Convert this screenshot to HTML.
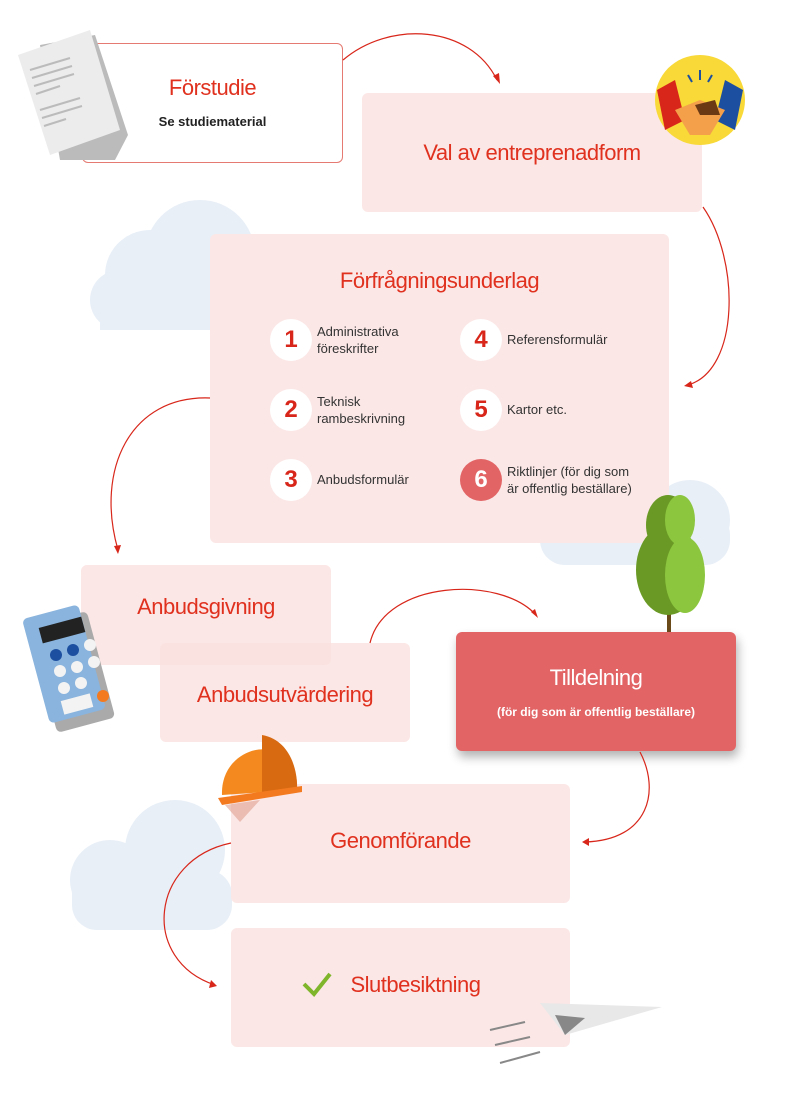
<!DOCTYPE html>
<html><head><meta charset="utf-8"><style>
*{margin:0;padding:0;box-sizing:border-box}
body{width:800px;height:1120px;background:#fff;position:relative;overflow:hidden;font-family:"Liberation Sans",sans-serif}
.b{position:absolute;background:#fbe7e6;border-radius:6px}
.t{position:absolute;color:#e0311f;font-size:22px;text-align:center;width:100%;letter-spacing:-0.5px}
.n{position:absolute;width:42px;height:42px;border-radius:50%;background:#fff;color:#d8261a;font-weight:bold;font-size:24px;text-align:center;line-height:42px}
.l{position:absolute;font-size:13px;color:#333;line-height:17px}
svg{position:absolute;left:0;top:0}
</style></head><body>
<svg width="800" height="1120">
<g fill="#e8eff7">
<circle cx="150" cy="275" r="45"/><circle cx="200" cy="255" r="55"/><circle cx="120" cy="300" r="30"/><rect x="100" y="280" width="130" height="50"/>
<circle cx="590" cy="520" r="40"/><circle cx="690" cy="520" r="40"/><circle cx="640" cy="510" r="30"/><rect x="540" y="510" width="190" height="55" rx="25"/>
<circle cx="110" cy="880" r="40"/><circle cx="175" cy="850" r="50"/><rect x="72" y="870" width="160" height="60" rx="25"/>
</g>
</svg>
<div class="b" style="left:82px;top:43px;width:261px;height:120px;background:#fff;border:1.5px solid #e57a72"></div>
<div class="t" style="left:82px;top:75px;width:261px">Förstudie</div>
<div style="position:absolute;left:82px;top:114px;width:261px;text-align:center;font-size:13px;font-weight:bold;color:#222">Se studiematerial</div>
<svg width="800" height="1120">
<polygon points="40,45 95,35 128,135 115,160 60,160" fill="#bbb"/>
<polygon points="18,55 90,30 120,130 50,155" fill="#ececec"/>
<g stroke="#bbb" stroke-width="2"><line x1="30" y1="70" x2="70" y2="58"/><line x1="32" y1="78" x2="72" y2="66"/><line x1="34" y1="86" x2="74" y2="74"/><line x1="36" y1="94" x2="60" y2="86"/><line x1="40" y1="110" x2="80" y2="98"/><line x1="42" y1="118" x2="82" y2="106"/><line x1="44" y1="126" x2="66" y2="119"/></g>
</svg>
<div class="b" style="left:362px;top:93px;width:340px;height:119px"></div>
<div class="t" style="left:362px;top:140px;width:340px">Val av entreprenadform</div>
<svg width="800" height="1120">
<circle cx="700" cy="100" r="45" fill="#f8d938"/>
<path d="M657,90 L675,80 L685,120 L665,130Z" fill="#d8261a"/><path d="M743,90 L725,80 L715,120 L735,130Z" fill="#1d4fa0"/>
<path d="M675,110 L700,100 L725,110 L710,135 L690,135Z" fill="#f4a04a"/><path d="M695,105 L715,100 L720,115 L700,115Z" fill="#6b3a14"/>
<g stroke="#1d4fa0" stroke-width="2"><line x1="700" y1="70" x2="700" y2="80"/><line x1="688" y1="75" x2="692" y2="82"/><line x1="712" y1="75" x2="708" y2="82"/></g>
</svg>
<div class="b" style="left:210px;top:234px;width:459px;height:309px"></div>
<div class="t" style="left:210px;top:268px;width:459px">Förfrågningsunderlag</div>
<div class="n" style="left:270px;top:319px">1</div><div class="l" style="left:317px;top:323px">Administrativa<br>föreskrifter</div>
<div class="n" style="left:270px;top:389px">2</div><div class="l" style="left:317px;top:393px">Teknisk<br>rambeskrivning</div>
<div class="n" style="left:270px;top:459px">3</div><div class="l" style="left:317px;top:471px">Anbudsformulär</div>
<div class="n" style="left:460px;top:319px">4</div><div class="l" style="left:507px;top:331px">Referensformulär</div>
<div class="n" style="left:460px;top:389px">5</div><div class="l" style="left:507px;top:401px">Kartor etc.</div>
<div class="n" style="left:460px;top:459px;background:#e26465;color:#fff">6</div><div class="l" style="left:507px;top:463px">Riktlinjer (för dig som<br>är offentlig beställare)</div>
<svg width="800" height="1120">
<rect x="667" y="590" width="4" height="45" fill="#6b4a1a"/>
<ellipse cx="668" cy="570" rx="32" ry="45" fill="#6a9a25"/><ellipse cx="668" cy="525" rx="22" ry="30" fill="#6a9a25"/>
<ellipse cx="685" cy="575" rx="20" ry="38" fill="#8cc63f"/><ellipse cx="680" cy="520" rx="15" ry="25" fill="#8cc63f"/>
</svg>
<div class="b" style="left:81px;top:565px;width:250px;height:100px"></div>
<div class="t" style="left:81px;top:594px;width:250px">Anbudsgivning</div>
<div class="b" style="left:160px;top:643px;width:250px;height:99px;background:rgba(250,225,222,0.8)"></div>
<div class="t" style="left:160px;top:682px;width:250px">Anbudsutvärdering</div>
<svg width="800" height="1120">
<rect x="42" y="617" width="60" height="110" rx="5" fill="#aaa" transform="rotate(-15 72 672)"/>
<rect x="35" y="610" width="58" height="108" rx="5" fill="#8ab4dd" transform="rotate(-15 64 664)"/>
<rect x="40" y="622" width="44" height="16" fill="#222" transform="rotate(-15 62 630)"/>
<circle cx="56" cy="655" r="6" fill="#1d4fa0"/><circle cx="73" cy="650" r="6" fill="#1d4fa0"/><circle cx="90" cy="645" r="6" fill="#f3f3f3"/>
<circle cx="60" cy="671" r="6" fill="#f3f3f3"/><circle cx="77" cy="667" r="6" fill="#f3f3f3"/><circle cx="94" cy="662" r="6" fill="#f3f3f3"/>
<circle cx="64" cy="688" r="6" fill="#f3f3f3"/><circle cx="81" cy="683" r="6" fill="#f3f3f3"/><circle cx="103" cy="696" r="6" fill="#f47a20"/>
<rect x="62" y="697" width="30" height="14" fill="#f3f3f3" transform="rotate(-15 77 704)"/>
</svg>
<div class="b" style="left:456px;top:632px;width:280px;height:119px;background:#e26465;box-shadow:2px 6px 10px rgba(0,0,0,0.3)"></div>
<div class="t" style="left:456px;top:665px;width:280px;color:#fff">Tilldelning</div>
<div style="position:absolute;left:456px;top:705px;width:280px;text-align:center;font-size:12px;font-weight:bold;color:#fff">(för dig som är offentlig beställare)</div>
<div class="b" style="left:231px;top:784px;width:339px;height:119px"></div>
<div class="t" style="left:231px;top:828px;width:339px">Genomförande</div>
<svg width="800" height="1120">
<path d="M222,795 C220,740 300,730 297,790Z" fill="#f48a1f"/><path d="M262,735 C290,740 298,770 297,790 L262,792Z" fill="#d86a12"/>
<path d="M218,798 L302,786 L302,792 L222,805Z" fill="#f47a20"/><path d="M225,805 L260,800 L240,822Z" fill="#e0a090" opacity=".6"/>
</svg>
<div class="b" style="left:231px;top:928px;width:339px;height:119px"></div>
<div class="t" style="left:231px;top:972px;width:339px;padding-left:30px">Slutbesiktning</div>
<svg width="800" height="1120">
<path d="M304,984 L314,994 L330,974" stroke="#7fb52a" stroke-width="4" fill="none"/>
<polygon points="540,1003 662,1007 565,1035" fill="#e8e8e8"/><polygon points="555,1015 585,1018 565,1035" fill="#888"/>
<g stroke="#888" stroke-width="2"><line x1="490" y1="1030" x2="525" y2="1022"/><line x1="495" y1="1045" x2="530" y2="1037"/><line x1="500" y1="1063" x2="540" y2="1052"/></g>
<g stroke="#d8261a" stroke-width="1.2" fill="none">
<path d="M343,60 C390,20 470,25 497,80"/><path d="M703,207 C740,260 740,370 688,385"/>
<path d="M210,398 C130,395 95,470 118,550"/><path d="M370,643 C385,580 500,575 536,615"/>
<path d="M640,752 C660,790 650,840 585,842"/><path d="M231,843 C150,860 140,960 215,985"/>
</g>
<g fill="#d8261a">
<polygon points="493,76 500,84 499,73"/><polygon points="691,381 684,386 693,388"/>
<polygon points="114,546 118,554 121,545"/><polygon points="531,612 538,618 535,609"/>
<polygon points="589,838 582,842 589,846"/><polygon points="211,980 217,986 209,988"/>
</g>
</svg>
</body></html>
